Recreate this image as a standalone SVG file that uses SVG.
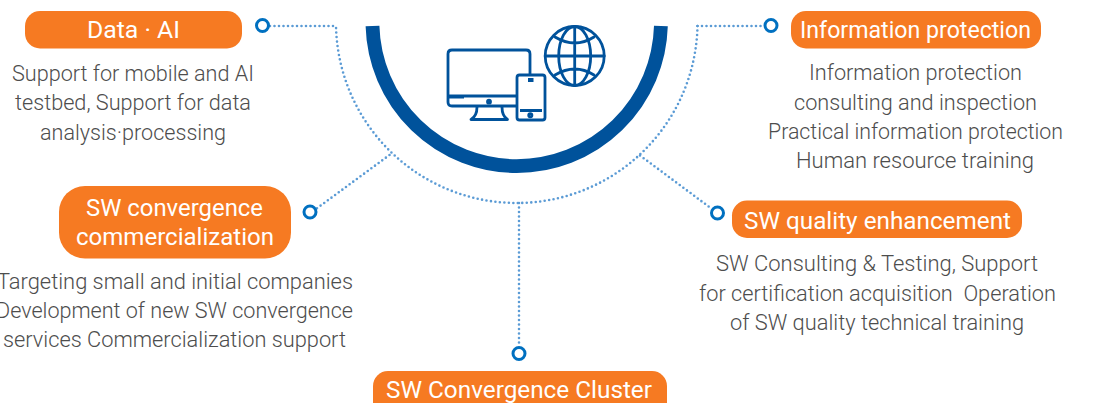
<svg xmlns="http://www.w3.org/2000/svg" width="1105" height="403" viewBox="0 0 1105 403">
<style>
.pill{fill:#f67a22}
.pt{font-family:Roboto,"Liberation Sans",sans-serif;font-size:24px;font-weight:400;fill:#fff}
.bt{font-family:Roboto,"Liberation Sans",sans-serif;font-size:22px;font-weight:300;fill:#4d4d4d}
.dot{fill:none;stroke:#5b9bd5;stroke-width:2.6;stroke-linecap:round;stroke-dasharray:0 4.5}
.end{fill:#fff;stroke:#0070c0;stroke-width:3}
.ic{fill:none;stroke:#00529b;stroke-width:2.8;stroke-linejoin:round;stroke-linecap:round}
.icf{fill:#00529b}
</style>
<rect width="1105" height="403" fill="#fff"/>
<g id="hub">
<path d="M372.500 26A144.260 144.260 0 0 0 660.900 26" fill="none" stroke="#00529b" stroke-width="13.800"/>
<g id="icon-monitor">
<path class="ic" d="M448 96V54Q448 50 452 50H526Q530 50 530 54V74M516 106H452Q448 106 448 102V96H516"/>
<rect class="icf" x="449" y="95" width="15" height="3.500"/>
<circle class="ic" cx="489" cy="101.700" r="1.500" stroke-width="1.500"/>
<path class="ic" d="M477 107Q477 116 471 119.500H507.500Q502 116 502 107"/>
<rect class="ic" x="517" y="75" width="28" height="45" rx="2.500"/>
<rect class="icf" x="528" y="78" width="5.500" height="4"/>
<rect class="icf" x="520" y="109" width="22" height="3"/>
<circle class="ic" cx="530.300" cy="115.300" r="1.600" stroke-width="1.500"/>
</g>
<g id="icon-globe" class="ic" stroke-width="3">
<circle cx="574.700" cy="56" r="29.500"/>
<ellipse cx="574.700" cy="56" rx="16" ry="29.500"/>
<path d="M574.700 26.500V85.500M545.200 56H604.200M555 37Q575 49 594 37M555 75Q575 63 594 75"/>
</g>
</g>
<g id="connectors">
<path class="dot" d="M697.500 26A180.790 180.790 0 0 1 336 26"/>
<path class="dot" d="M270 26H336"/>
<path class="dot" d="M697.500 26H764"/>
<path class="dot" d="M389.500 155L316 209"/>
<path class="dot" d="M640 155.500L712 209"/>
<path class="dot" d="M519 203V347"/>
</g>
<g id="node-data-ai">
<rect class="pill" x="25" y="11" width="217" height="37.500" rx="15"/>
<circle class="end" cx="262.500" cy="25.500" r="6"/>
<text class="pt" x="87" y="38" textLength="93" lengthAdjust="spacingAndGlyphs">Data · AI</text>
<text class="bt" x="12" y="81" textLength="242" lengthAdjust="spacingAndGlyphs">Support for mobile and AI</text>
<text class="bt" x="15" y="110" textLength="236" lengthAdjust="spacingAndGlyphs">testbed, Support for data</text>
<text class="bt" x="40" y="140" textLength="186" lengthAdjust="spacingAndGlyphs">analysis·processing</text>
</g>
<g id="node-info">
<rect class="pill" x="791" y="11" width="250" height="37.500" rx="15"/>
<circle class="end" cx="771" cy="25.500" r="6"/>
<text class="pt" x="800" y="38" textLength="231" lengthAdjust="spacingAndGlyphs">Information protection</text>
<text class="bt" x="809" y="80" textLength="213" lengthAdjust="spacingAndGlyphs">Information protection</text>
<text class="bt" x="794" y="110" textLength="243" lengthAdjust="spacingAndGlyphs">consulting and inspection</text>
<text class="bt" x="768" y="139" textLength="295" lengthAdjust="spacingAndGlyphs">Practical information protection</text>
<text class="bt" x="796" y="168" textLength="238" lengthAdjust="spacingAndGlyphs">Human resource training</text>
</g>
<g id="node-commercialization">
<rect class="pill" x="59" y="186" width="232" height="72.500" rx="26"/>
<circle class="end" cx="310" cy="212" r="6"/>
<text class="pt" x="86" y="216" textLength="177" lengthAdjust="spacingAndGlyphs">SW convergence</text>
<text class="pt" x="76" y="245" textLength="198" lengthAdjust="spacingAndGlyphs">commercialization</text>
<text class="bt" x="-3" y="289" textLength="356" lengthAdjust="spacingAndGlyphs">Targeting small and initial companies</text>
<text class="bt" x="-4" y="318" textLength="357" lengthAdjust="spacingAndGlyphs">Development of new SW convergence</text>
<text class="bt" x="3" y="347" textLength="343" lengthAdjust="spacingAndGlyphs">services Commercialization support</text>
</g>
<g id="node-quality">
<rect class="pill" x="732" y="200.500" width="290" height="37.500" rx="15"/>
<circle class="end" cx="717.500" cy="213" r="6"/>
<text class="pt" x="744" y="229" textLength="267" lengthAdjust="spacingAndGlyphs">SW quality enhancement</text>
<text class="bt" x="716" y="271" textLength="322" lengthAdjust="spacingAndGlyphs">SW Consulting &amp; Testing, Support</text>
<text class="bt" x="699" y="301" textLength="357" lengthAdjust="spacingAndGlyphs" xml:space="preserve">for certification acquisition  Operation</text>
<text class="bt" x="730" y="330" textLength="294" lengthAdjust="spacingAndGlyphs">of SW quality technical training</text>
</g>
<g id="node-cluster">
<rect class="pill" x="373" y="371" width="294" height="50" rx="15"/>
<circle class="end" cx="519" cy="353.500" r="6"/>
<text class="pt" x="386" y="398" textLength="266" lengthAdjust="spacingAndGlyphs">SW Convergence Cluster</text>
</g>
</svg>
